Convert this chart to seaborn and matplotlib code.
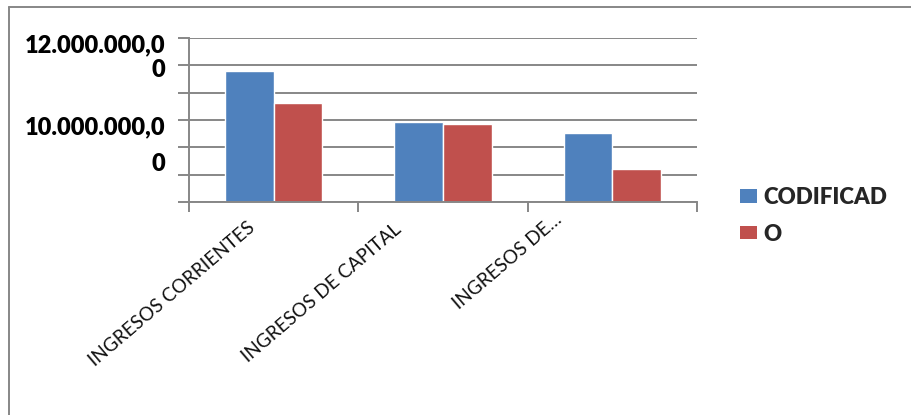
import pandas as pd
import matplotlib.pyplot as plt
import matplotlib.transforms as mtransforms
from matplotlib.patches import Patch
from matplotlib.lines import Line2D
import seaborn as sns

# Datos
categorias = ["INGRESOS CORRIENTES", "INGRESOS DE CAPITAL", "INGRESOS DE…"]
codificado = [9_590_000, 5_850_000, 5_050_000]
devengado = [7_240_000, 5_730_000, 2_410_000]
series = ["CODIFICADO", "DEVENGADO"]
colores = ["#4F81BD", "#C0504D"]
ticks_y = [0, 2_000_000, 4_000_000, 6_000_000, 8_000_000, 10_000_000, 12_000_000]
lineas_eje_y = ["12.000.000,0", "0", "10.000.000,0", "0"]
textos_leyenda = ["CODIFICAD", "O"]

df = pd.DataFrame({
    "categoria": categorias * 2,
    "serie": [series[0]] * 3 + [series[1]] * 3,
    "valor": codificado + devengado,
})

sns.set_theme(style="white")
plt.rcParams["font.family"] = ["Lato", "DejaVu Sans"]

W, H = 911, 415
fig = plt.figure(figsize=(W / 100, H / 100), dpi=100)
ax = fig.add_axes([189 / W, 1 - 202 / H, (697 - 189) / W, (202 - 38) / H])

sns.barplot(data=df, x="categoria", y="valor", hue="serie", order=categorias,
            hue_order=series, palette=colores, width=0.575, gap=0,
            saturation=1, ax=ax, legend=False)

gris = "#878787"
ax.set_xlim(-0.5, 2.5)
ax.set_ylim(ticks_y[0], ticks_y[-1])
ax.set_yticks(ticks_y)
ax.set_yticklabels([])
ax.yaxis.grid(True, color=gris, lw=1.4)
ax.set_axisbelow(True)
ax.tick_params(axis="y", length=8, width=1.4, color=gris, direction="out", left=True)
ax.set_xticks([])
ax.set_xticks([i - 0.5 for i in range(len(categorias) + 1)], minor=True)
ax.tick_params(axis="x", which="minor", length=7, width=1.4, color=gris,
               direction="out", bottom=True)
ax.set_xlabel("")
ax.set_ylabel("")
for s in ["top", "right"]:
    ax.spines[s].set_visible(False)
for s in ["left", "bottom"]:
    ax.spines[s].set_color(gris)
    ax.spines[s].set_linewidth(1.4)

# Etiquetas de categoria giradas (como en Excel)
desplaz = [(-21, -23), (-44, -25), (-53, -15)]
trans_base = mtransforms.blended_transform_factory(ax.transData, ax.transAxes)
for i, cat in enumerate(categorias):
    dx, dy = desplaz[i]
    t = trans_base + mtransforms.ScaledTranslation(dx / 100, dy / 100, fig.dpi_scale_trans)
    ax.text(i, 0, cat, transform=t, rotation=40.5, rotation_mode="anchor",
            ha="right", va="center", fontsize=13.6, color="#111111")

# Etiquetas del eje Y, partidas en dos lineas
pos_y = [45, 70, 127, 164]
for txt, py in zip(lineas_eje_y, pos_y):
    fig.text(165 / W, 1 - py / H, txt, ha="right", va="center",
             fontsize=17, fontweight="heavy", color="black")

# Leyenda
handles = [Patch(facecolor=c, edgecolor="none") for c in colores]
fig.legend(handles, textos_leyenda, loc="upper left",
           bbox_to_anchor=(740 / W, 1 - 187 / H), frameon=False,
           prop={"size": 16, "weight": "heavy"}, handlelength=0.75,
           handleheight=0.55, handletextpad=0.3, labelspacing=0.7,
           borderpad=0, borderaxespad=0)

# Marco del area del grafico
fig.add_artist(Line2D([9 / W, 9 / W], [0, 1 - 7 / H], color=gris, lw=1.4))
fig.add_artist(Line2D([9 / W, 1], [1 - 7 / H, 1 - 7 / H], color=gris, lw=1.4))

fig.savefig("out.png", dpi=100)
